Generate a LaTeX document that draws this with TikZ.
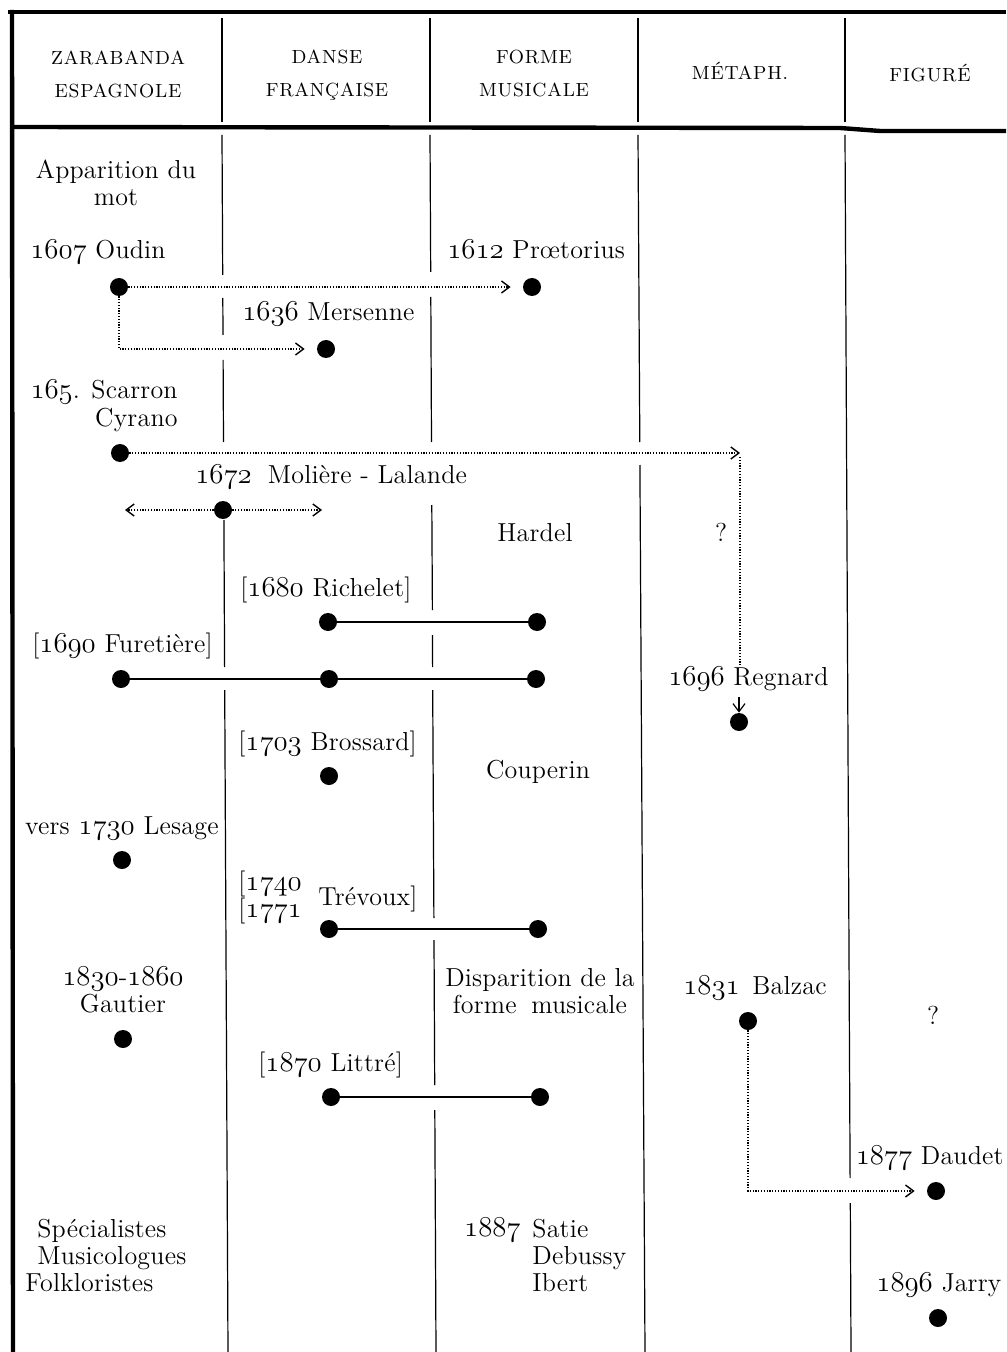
\documentclass[tikz,border=0pt]{standalone}
\usepackage{fontspec}
\setmainfont{Latin Modern Roman}[LetterSpace=0.8]
\usetikzlibrary{arrows.meta}

\newcommand{\yr}[1]{{\fontsize{13.5}{13.5}\usefont{OML}{lmm}{m}{it}#1}}

\begin{document}
\begin{tikzpicture}[x=0.5pt, y=-0.5pt, >={Straight Barb[length=4pt,width=6pt]},
  every node/.style={inner sep=0pt, font=\fontsize{13}{13.5}\selectfont},
  head/.style={align=center, font=\fontsize{9.5}{16.5}\selectfont\addfontfeatures{LetterSpace=4}},
  txt/.style={anchor=base west},
  rtxt/.style={anchor=base east},
  ctxt/.style={anchor=base, align=center},
  dot/.style={circle, fill=black, minimum size=9pt},
  border/.style={line width=2.2pt},
  rule/.style={line width=0.6pt},
  link/.style={line width=0.6pt},
  dotline/.style={line width=0.7pt, dash pattern=on 0.6pt off 0.8pt},
  dotarrow/.style={->, dotline}]
  \useasboundingbox (0,0) rectangle (1006,1352);
  \draw[border] (8,12) -- (1006,12);
  \draw[border] (12,10) -- (13,1352);
  \draw[border] (12,127) -- (840,128) -- (880,131) -- (1006,131);
  \foreach \x in {222,430,638,845}
    \draw[rule] (\x,18) -- (\x,122);
  \foreach \xa/\ya/\xb/\yb in {222/135/222.7/275, 222.8/298/223/335, 223.1/360/223.5/442,
      223.9/520/224.6/667, 224.7/690/228/1352,
      430/135/430.7/272, 430.8/297/431.5/442, 431.8/505/432.4/610, 432.5/635/432.6/667,
      432.7/690/433.9/918, 434/940/434.7/1085, 434.8/1110/436/1352,
      638/135/639.8/442, 639.9/465/645/1352,
      845/135/850.1/1178, 850.3/1203/851/1352}
    \draw[rule] (\xa,\ya) -- (\xb,\yb);

  \node[head] (zarabanda) at (118,74) {ZARABANDA\\ESPAGNOLE};
  \node[head] (danse) at (327,75) {DANSE\\FRANÇAISE};
  \node[head] (forme) at (534,74) {FORME\\MUSICALE};
  \node[head, anchor=base] (metaph) at (740,80) {MÉTAPH.};
  \node[head, anchor=base] (figure) at (930,82) {FIGURÉ};

  \node[ctxt] (apparition) at (116,206) {Apparition du\\mot};
  \node[txt] (oudinlbl) at (30,259) {\yr{1607} Oudin};
  \node[txt] (proetoriuslbl) at (447,259) {\yr{1612} Prœtorius};
  \node[txt] (mersennelbl) at (242,321) {\yr{1636} Mersenne};
  \node[rtxt, align=right] (scarronlbl) at (178,426) {\yr{165}. Scarron\\Cyrano};
  \node[txt] (molierelbl) at (195,483) {\yr{1672}\hspace{8pt}Molière - Lalande};
  \node[ctxt] (hardel) at (535,541) {Hardel};
  \node[ctxt] (query1) at (721,541) {?};
  \node[txt] (richeletlbl) at (240,596) {[\yr{1680} Richelet]};
  \node[txt] (furetierelbl) at (32,652) {[\yr{1690} Furetière]};
  \node[txt] (regnardlbl) at (668,685) {\yr{1696} Regnard};
  \node[txt] (brossardlbl) at (238,750) {[\yr{1703} Brossard]};
  \node[ctxt] (couperin) at (538,778) {Couperin};
  \node[rtxt] (lesagelbl) at (219,834) {vers \yr{1730} Lesage};
  \node[txt, align=left] (trevouxyrs) at (238,917) {[\yr{1740}\\\relax[\yr{1771}};
  \node[txt] (trevouxlbl) at (318,905) {Trévoux]};
  \node[ctxt] (gautierlbl) at (123,1012) {\yr{1830}-\yr{1860}\\Gautier};
  \node[ctxt] (disparition) at (540,1013) {Disparition de la\\forme\hspace{3pt} musicale};
  \node[txt] (balzaclbl) at (683,994) {\yr{1831}\hspace{2pt} Balzac};
  \node[ctxt] (query2) at (933,1024) {?};
  \node[txt] (littrelbl) at (258,1071) {[\yr{1870} Littré]};
  \node[rtxt] (daudetlbl) at (1004,1164) {\yr{1877} Daudet};
  \node[txt, align=left] (specialistes) at (25,1291)
    {\hspace*{6pt}Spécialistes\\\hspace*{6pt}Musicologues\\Folkloristes};
  \node[rtxt] (satieyr) at (521,1236) {\yr{1887}};
  \node[txt, align=left] (satielbl) at (532,1291) {Satie\\Debussy\\Ibert};
  \node[txt] (jarrylbl) at (876,1291) {\yr{1896} Jarry};

  \node[dot] (oudin) at (119,287) {};
  \node[dot] (proetorius) at (532,287) {};
  \node[dot] (mersenne) at (326,349) {};
  \node[dot] (cyrano) at (120,453) {};
  \node[dot] (moliere) at (223,510) {};
  \node[dot] (richelet1) at (328,622) {};
  \node[dot] (richelet2) at (537,622) {};
  \node[dot] (furetiere1) at (121,679) {};
  \node[dot] (furetiere2) at (329,679) {};
  \node[dot] (furetiere3) at (536,679) {};
  \node[dot] (regnard) at (739,722) {};
  \node[dot] (brossard) at (329,776) {};
  \node[dot] (lesage) at (122,860) {};
  \node[dot] (trevoux1) at (329,929) {};
  \node[dot] (trevoux2) at (538,929) {};
  \node[dot] (gautier) at (123,1039) {};
  \node[dot] (balzac) at (748,1021) {};
  \node[dot] (littre1) at (331,1097) {};
  \node[dot] (littre2) at (540,1097) {};
  \node[dot] (daudet) at (936,1191) {};
  \node[dot] (jarry) at (938,1318) {};
  \coordinate (turn) at (740,453);
  \coordinate (molleft) at (125,510);
  \coordinate (molright) at (322,510);

  \draw[dotarrow, shorten >=6pt] (oudin) -- (proetorius);
  \draw[dotarrow, shorten >=6pt] (oudin) |- (mersenne);
  \draw[dotarrow] (cyrano) -- (turn);
  \draw[dotline] ([yshift=-2pt]turn) -- (turn |- regnardlbl.north);
  \draw[->, link, shorten <=3pt] (regnard |- regnardlbl.south) -- (regnard);
  \draw[dotarrow] (moliere) -- (molleft);
  \draw[dotarrow] (moliere) -- (molright);
  \draw[link] (richelet1) -- (richelet2);
  \draw[link] (furetiere1) -- (furetiere2) -- (furetiere3);
  \draw[link] (trevoux1) -- (trevoux2);
  \draw[link] (littre1) -- (littre2);
  \draw[dotarrow, shorten >=6pt] (balzac) |- (daudet);
\end{tikzpicture}
\end{document}
